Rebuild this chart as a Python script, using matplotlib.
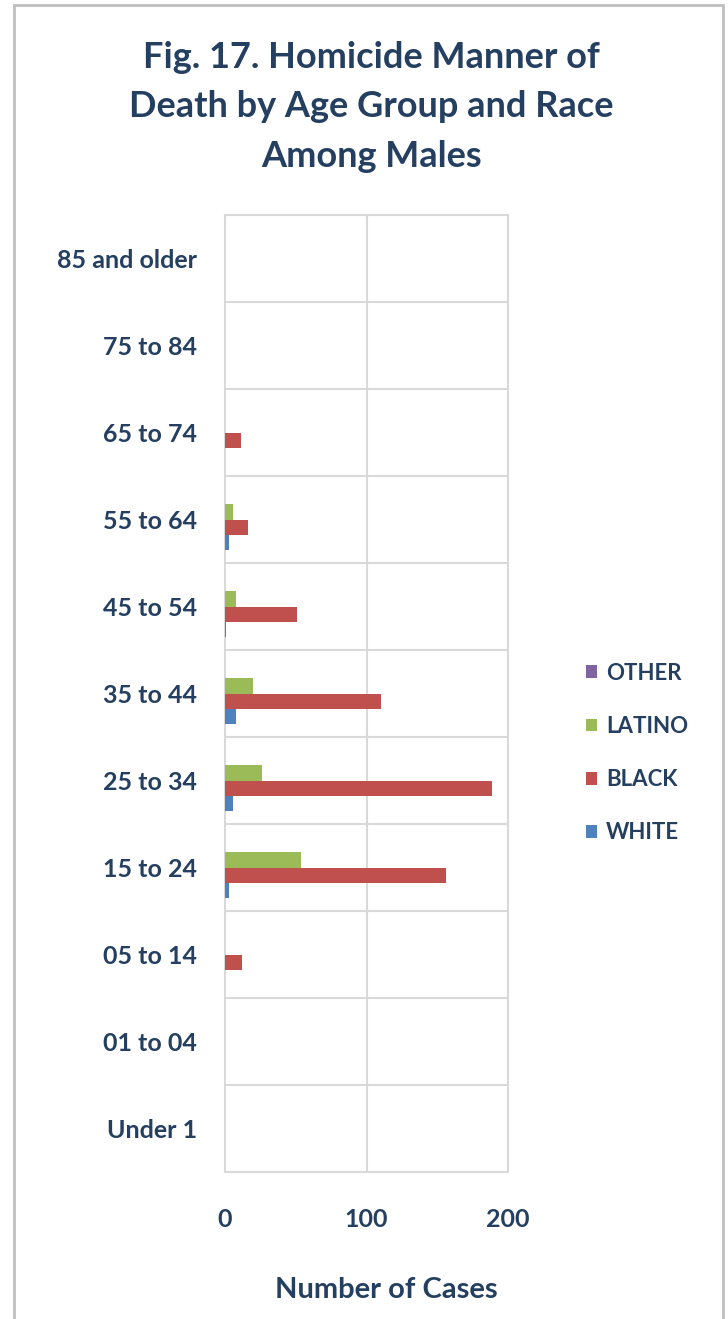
import matplotlib.pyplot as plt
import numpy as np
from matplotlib.patches import Rectangle

ages = ['Under 1', '01 to 04', '05 to 14', '15 to 24', '25 to 34', '35 to 44',
        '45 to 54', '55 to 64', '65 to 74', '75 to 84', '85 and older']
white = [0, 0, 0, 3, 6, 8, 1, 3, 0, 0, 0]
black = [0, 0, 12, 156, 189, 110, 51, 16, 11, 0, 0]
latino = [0, 0, 0, 54, 26, 20, 8, 6, 0, 0, 0]
other = [0, 0, 0, 0, 0, 0, 0, 0, 0, 0, 0]
xticks = [0, 100, 200]

navy = '#243F60'
plt.rcParams['font.family'] = ['Lato', 'DejaVu Sans']
plt.rcParams['font.weight'] = 'bold'

fig = plt.figure(figsize=(7.28, 13.19), dpi=100)
fig.patches.append(Rectangle((14/728, -0.01), 709/728, 1.0 - 5/1319 + 0.01,
                             transform=fig.transFigure, fill=False,
                             edgecolor='#BFBFBF', linewidth=2))
ax = fig.add_axes([225/728, 1 - 1172/1319, 283/728, 957/1319])

y = np.arange(len(ages))
h = 0.175
series = [('WHITE', white, '#4F81BD', -1.5), ('BLACK', black, '#C0504D', -0.5),
          ('LATINO', latino, '#9BBB59', 0.5), ('OTHER', other, '#8064A2', 1.5)]
handles = {}
for name, vals, col, off in series:
    handles[name] = ax.barh(y + off * h, vals, height=h, color=col, label=name, zorder=3)

ax.set_xlim(0, 200)
ax.set_ylim(-0.5, len(ages) - 0.5)
ax.set_xticks(xticks)
ax.set_yticks(y)
ax.set_yticklabels(ages)
for yy in np.arange(len(ages) - 1) + 0.5:
    ax.axhline(yy, color='#D9D9D9', lw=1.5, zorder=1)
ax.axvline(100, color='#D9D9D9', lw=1.5, zorder=1)
for s in ax.spines.values():
    s.set_color('#D9D9D9')
    s.set_linewidth(1.5)
ax.tick_params(length=0, labelsize=18, labelcolor=navy)
ax.tick_params(axis='y', pad=20)
ax.tick_params(axis='x', pad=26)
ax.set_xlabel('Number of Cases', fontsize=21, color=navy, fontweight='bold', va='center')
ax.xaxis.set_label_coords(0.569, -(1290 - 1172) / 957)

fig.text(0.51, 0.9687, 'Fig. 17. Homicide Manner of\nDeath by Age Group and Race\nAmong Males',
         ha='center', va='top', fontsize=26, color=navy, linespacing=1.6)

order = ['OTHER', 'LATINO', 'BLACK', 'WHITE']
ax.legend([handles[n] for n in order], order, loc='center left',
          bbox_to_anchor=(566/728, 1 - 753/1319), bbox_transform=fig.transFigure,
          frameon=False, prop={'weight': 'bold', 'size': 16}, labelcolor=navy,
          handlelength=0.5, handleheight=0.5, handletextpad=0.4, labelspacing=1.45)

fig.savefig('out.png', dpi=100)
